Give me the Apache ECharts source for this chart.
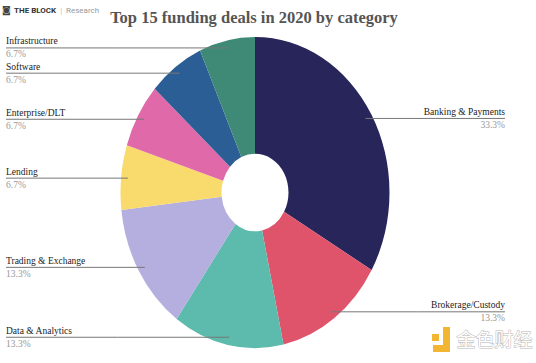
<!DOCTYPE html>
<html>
<head>
<meta charset="utf-8">
<script src="https://cdn.jsdelivr.net/npm/echarts@6/dist/echarts.min.js"></script>
<style>
html,body{margin:0;padding:0;background:#fff;}
#wrap{position:relative;width:536px;height:363px;overflow:hidden;}
#pie,#main{position:absolute;left:0;top:0;width:536px;height:363px;}
#pie{transform:scaleY(1.157);transform-origin:255px 192.5px;}
</style>
</head>
<body>
<div id="wrap"><div id="pie"></div><div id="main"></div></div>
<script>
// ---- data ----
const categories = ['Banking & Payments','Brokerage/Custody','Data & Analytics','Trading & Exchange','Lending','Enterprise/DLT','Software','Infrastructure'];
const shares = [33.3, 13.3, 13.3, 13.3, 6.7, 6.7, 6.7, 6.7];
const colors = ['#28255b','#e0546b','#5cbbad','#b4afdf','#f9da6c','#e06aa9','#2b5e95','#3f8a77'];

// ---- layout constants ----
const CX = 255, CY = 192.5, R0 = 33.5, R = 134.5, SY = 1.157;
const DOT = 0.95, LEFT_EDGE = 6, RIGHT_EDGE = 505;

const data = categories.map((c, i) => ({ name: c, value: shares[i], itemStyle: { color: colors[i] } }));
const total = shares.reduce((a, b) => a + b, 0);
function midAngle(idx) {
  let s = 0;
  for (let i = 0; i < idx; i++) s += shares[i];
  return ((s + shares[idx] / 2) / total) * 2 * Math.PI; // clockwise from top
}

// Pie slices (elliptical via CSS vertical scaling)
const pie = echarts.init(document.getElementById('pie'), null, { renderer: 'svg' });
pie.setOption({
  animation: false,
  series: [{
    type: 'pie', silent: true, clockwise: true, startAngle: 90,
    center: [CX, CY], radius: [R0, R],
    label: { show: false }, labelLine: { show: false },
    itemStyle: { borderWidth: 0 },
    data: data
  }]
});

// Labels, title and decorations
const main = echarts.init(document.getElementById('main'), null, { renderer: 'svg' });
main.setOption({
  animation: false,
  title: {
    text: 'Top 15 funding deals in 2020 by category',
    left: 249, top: 4, textAlign: 'center',
    textStyle: { fontFamily: 'Liberation Serif', fontWeight: 'bold', fontSize: 16.5, color: '#555' }
  },
  graphic: [
    { type: 'text', left: 2, top: 4, style: {
        text: '{i|◙} {b|THE BLOCK}{s|  |  }{r|Research}',
        rich: {
          i: { fontSize: 9, fill: '#444', fontFamily: 'DejaVu Sans' },
          b: { fontSize: 8, fontWeight: 'bold', fill: '#333', fontFamily: 'Roboto' },
          s: { fontSize: 8, fill: '#bbb', fontFamily: 'Roboto' },
          r: { fontSize: 8, fill: '#999', fontFamily: 'Roboto' }
        } } },
    { type: 'rect', left: 432, top: 334, shape: { width: 7, height: 7 }, style: { fill: '#f2b632' } },
    { type: 'polygon', shape: { points: [[443,327],[450,327],[450,352],[433,352],[433,345],[443,345]] }, style: { fill: '#f2b632' } },
    { type: 'text', left: 456, top: 328, style: {
        text: '金色财经', fontFamily: 'Noto Sans CJK SC', fontSize: 19, fill: '#fff', stroke: '#b8b8b8', lineWidth: 1 } }
  ],
  series: [{
    type: 'pie', silent: true, clockwise: true, startAngle: 90,
    center: [CX, CY], radius: [R0, R],
    avoidLabelOverlap: false,
    itemStyle: { color: 'rgba(0,0,0,0)', borderWidth: 0, borderColor: 'rgba(0,0,0,0)' },
    label: {
      show: true, position: 'outer',
      formatter: p => '{n|' + p.name + '}\n{p|' + p.value + '%}',
      rich: {
        n: { fontFamily: 'Liberation Serif', fontSize: 9.5, color: '#222', lineHeight: 13 },
        p: { fontFamily: 'Liberation Serif', fontSize: 9.5, color: '#999', lineHeight: 13 }
      }
    },
    labelLine: { show: true, lineStyle: { color: '#777', width: 1 } },
    labelLayout: function (p) {
      const a = midAngle(p.dataIndex);
      const dx = Math.sin(a), dy = -Math.cos(a);
      const x0 = CX + dx * R * DOT, y0 = CY + dy * R * DOT * SY;
      const right = dx > 0;
      const xe = right ? RIGHT_EDGE : LEFT_EDGE;
      return {
        x: xe, y: y0, align: right ? 'right' : 'left', verticalAlign: 'middle',
        labelLinePoints: [[x0, y0], [(x0 + xe) / 2, y0], [xe, y0]]
      };
    },
    data: data.map(d => ({ name: d.name, value: d.value }))
  }]
});
</script>
</body>
</html>
